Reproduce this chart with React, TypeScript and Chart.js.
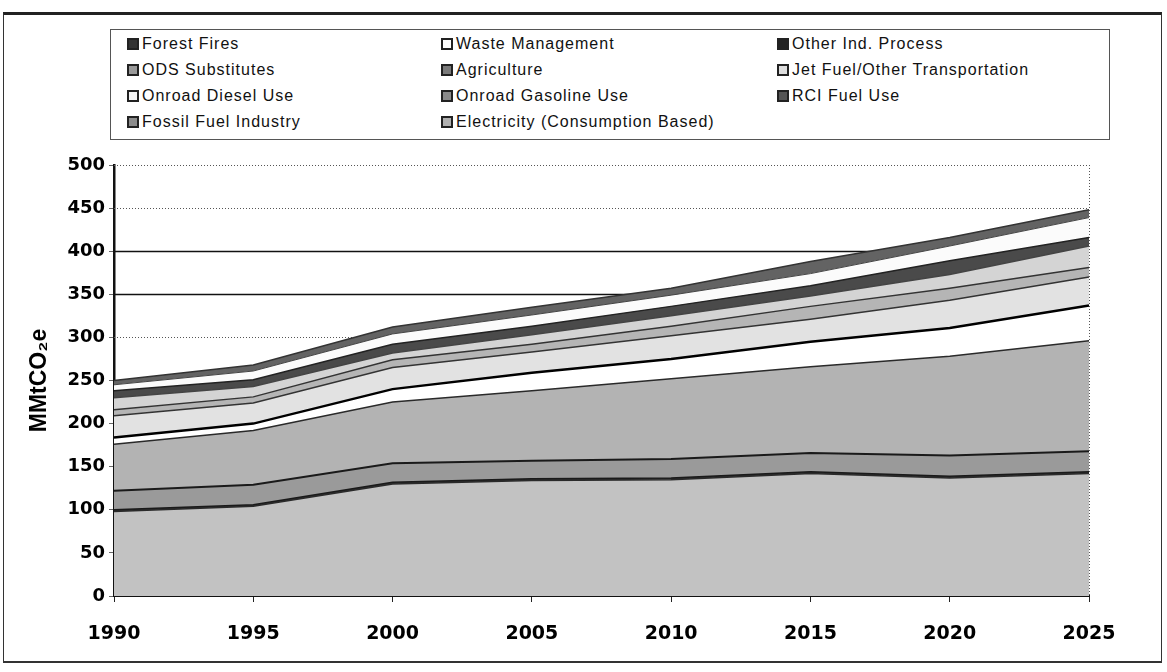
import React, { useEffect, useRef } from 'react';
import { Chart, registerables } from 'chart.js';

Chart.register(...registerables);

// ---- Data (MMtCO2e), stacked bottom-up ----
const years = ['1990', '1995', '2000', '2005', '2010', '2015', '2020', '2025'];
const electricity = [98, 104, 130, 134, 135, 142, 137, 142];
const fossilFuelIndustry = [2, 2, 2, 2, 2, 2, 2, 2];
const rciFuelUse = [22, 23, 22, 21, 22, 22, 24, 24];
const onroadGasolineUse = [54, 63, 71, 81, 93, 100, 115, 128];
const onroadDieselUse = [8, 8, 15, 21, 23, 29, 33, 41];
const jetFuelOther = [25, 24, 25, 24, 27, 26, 32, 33];
const agriculture = [7, 7, 9, 9, 11, 15, 14, 11];
const odsSubstitutes = [14, 12, 8, 11, 12, 12, 16, 25];
const otherIndProcess = [8, 8, 10, 10, 11, 12, 16, 10];
const wasteManagement = [7, 10, 12, 13, 13, 14, 17, 23];
const forestFires = [5, 7, 8, 9, 8, 14, 10, 9];

const yMin = 0;
const yMax = 500;
const yStep = 50;
const solidGridValues = [400, 350];

// legend order as shown (row by row)
const legendOrder = [
  'Forest Fires', 'Waste Management', 'Other Ind. Process',
  'ODS Substitutes', 'Agriculture', 'Jet Fuel/Other Transportation',
  'Onroad Diesel Use', 'Onroad Gasoline Use', 'RCI Fuel Use',
  'Fossil Fuel Industry', 'Electricity (Consumption Based)',
];

const series = [
  { label: 'Electricity (Consumption Based)', data: electricity, fill: '#c2c2c2', swatch: '#b0b0b0', line: '#2a2a2a', lw: 1.5 },
  { label: 'Fossil Fuel Industry', data: fossilFuelIndustry, fill: '#2e2e2e', swatch: '#8c8c8c', line: '#1a1a1a', lw: 1.5 },
  { label: 'RCI Fuel Use', data: rciFuelUse, fill: '#9a9a9a', swatch: '#555555', line: '#1a1a1a', lw: 2 },
  { label: 'Onroad Gasoline Use', data: onroadGasolineUse, fill: '#b3b3b3', swatch: '#8a8a8a', line: '#2a2a2a', lw: 1.5 },
  { label: 'Onroad Diesel Use', data: onroadDieselUse, fill: '#ffffff', swatch: '#f4f4f4', line: '#000000', lw: 2.5 },
  { label: 'Jet Fuel/Other Transportation', data: jetFuelOther, fill: '#e2e2e2', swatch: '#dddddd', line: '#333333', lw: 1.5 },
  { label: 'Agriculture', data: agriculture, fill: '#b5b5b5', swatch: '#7a7a7a', line: '#333333', lw: 1.5 },
  { label: 'ODS Substitutes', data: odsSubstitutes, fill: '#d4d4d4', swatch: '#9a9a9a', line: '#444444', lw: 1.5 },
  { label: 'Other Ind. Process', data: otherIndProcess, fill: '#4a4a4a', swatch: '#222222', line: '#222222', lw: 1.5 },
  { label: 'Waste Management', data: wasteManagement, fill: '#fbfbfb', swatch: '#ffffff', line: '#444444', lw: 1 },
  { label: 'Forest Fires', data: forestFires, fill: '#636363', swatch: '#333333', line: '#333333', lw: 1.5 },
];

const W = 1167;
const H = 672;
const PLOT_LEFT = 114;
const PLOT_RIGHT = 1089;
const PLOT_TOP = 165;
const PLOT_BOTTOM = 596;
const PAD_LEFT = 14;

const gridPlugin = {
  id: 'scanGrid',
  beforeDatasetsDraw(chart: any) {
    const { ctx, chartArea, scales } = chart;
    const y = scales.y;
    ctx.save();
    y.ticks.forEach((t: any) => {
      if (t.value === 0) return;
      const py = Math.round(y.getPixelForValue(t.value)) + 0.5;
      const solid = solidGridValues.includes(t.value);
      ctx.beginPath();
      ctx.strokeStyle = solid ? '#111111' : '#555555';
      ctx.lineWidth = solid ? 1.6 : 1;
      ctx.setLineDash(solid ? [] : [1, 2]);
      ctx.moveTo(chartArea.left, py);
      ctx.lineTo(chartArea.right, py);
      ctx.stroke();
    });
    ctx.beginPath();
    ctx.strokeStyle = '#555555';
    ctx.lineWidth = 1;
    ctx.setLineDash([1, 2]);
    ctx.moveTo(chartArea.right + 0.5, chartArea.top);
    ctx.lineTo(chartArea.right + 0.5, chartArea.bottom);
    ctx.stroke();
    ctx.restore();
  },
};

function Legend() {
  const byLabel: Record<string, any> = {};
  series.forEach((s) => (byLabel[s.label] = s));
  const colX = [16, 330, 666];
  const rowY = [14, 40, 66, 92];
  return (
    <div
      style={{
        position: 'absolute',
        left: 110,
        top: 29,
        width: 1000,
        height: 111,
        border: '1px solid #555',
        boxSizing: 'border-box',
        background: '#fff',
      }}
    >
      {legendOrder.map((name, i) => {
        const s = byLabel[name];
        const col = i % 3;
        const row = Math.floor(i / 3);
        return (
          <div
            key={name}
            style={{
              position: 'absolute',
              left: colX[col],
              top: rowY[row] - 10,
              height: 20,
              display: 'flex',
              alignItems: 'center',
              whiteSpace: 'nowrap',
              fontFamily: '"Liberation Sans", Arial, sans-serif',
              fontSize: 16,
              letterSpacing: 1,
              color: '#111',
            }}
          >
            <span
              style={{
                display: 'inline-block',
                width: 8,
                height: 8,
                border: '2px solid #222',
                background: s.swatch,
                marginRight: 3,
              }}
            />
            {name}
          </div>
        );
      })}
    </div>
  );
}

export default function App() {
  const ref = useRef<HTMLCanvasElement | null>(null);

  useEffect(() => {
    if (!ref.current) return;
    const datasets = series.map((s, i) => ({
      label: s.label,
      data: s.data,
      backgroundColor: s.fill,
      borderColor: s.line,
      borderWidth: s.lw,
      fill: i === 0 ? 'origin' : '-1',
      pointRadius: 0,
      tension: 0,
    }));

    const chart = new Chart(ref.current, {
      type: 'line',
      data: { labels: years, datasets },
      options: {
        responsive: false,
        animation: false,
        devicePixelRatio: 1,
        layout: {
          padding: { left: PAD_LEFT, top: PLOT_TOP, right: W - PLOT_RIGHT, bottom: 0 },
        },
        plugins: {
          legend: { display: false },
          tooltip: { enabled: false },
        },
        scales: {
          x: {
            offset: false,
            grid: { drawOnChartArea: false, drawTicks: true, tickLength: 6, color: '#222', lineWidth: 1 },
            border: { display: true, color: '#111', width: 2 },
            ticks: {
              color: '#000',
              padding: 21,
              maxRotation: 0,
              autoSkip: false,
              font: { family: '"DejaVu Sans", Verdana, sans-serif', size: 19, weight: 'bold' },
            },
            afterFit: (scale: any) => {
              scale.height = H - PLOT_BOTTOM;
            },
          },
          y: {
            stacked: true,
            min: yMin,
            max: yMax,
            ticks: {
              stepSize: yStep,
              color: '#000',
              padding: 4,
              font: { family: '"DejaVu Sans", Verdana, sans-serif', size: 18, weight: 'bold' },
            },
            grid: { drawOnChartArea: false, drawTicks: true, tickLength: 5, color: '#666' },
            border: { display: true, color: '#111', width: 2.5 },
            title: {
              display: true,
              text: 'MMtCO₂e',
              color: '#000',
              padding: { top: 12, bottom: 4 },
              font: { family: '"Liberation Sans", Arial, sans-serif', size: 23, weight: 'bold' },
            },
            afterFit: (scale: any) => {
              scale.width = PLOT_LEFT - PAD_LEFT;
            },
          },
        },
      },
      plugins: [gridPlugin],
    } as any);

    return () => chart.destroy();
  }, []);

  return (
    <div style={{ position: 'fixed', left: 0, top: 0, width: W, height: H, background: '#fff' }}>
      <div
        style={{
          position: 'absolute',
          left: 3,
          top: 12,
          width: 1159,
          height: 651,
          borderTop: '3px solid #222',
          borderLeft: '1.5px solid #333',
          borderRight: '1.5px solid #333',
          borderBottom: '2px solid #333',
          boxSizing: 'border-box',
        }}
      />
      <canvas ref={ref} width={W} height={H} style={{ position: 'absolute', left: 0, top: 0 }} />
      <Legend />
    </div>
  );
}
